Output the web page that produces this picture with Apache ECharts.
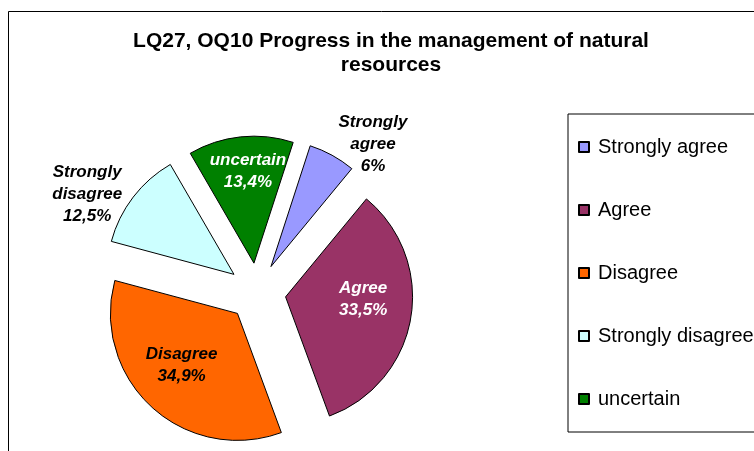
<!DOCTYPE html>
<html>
<head>
<meta charset="utf-8">
<script src="https://cdn.jsdelivr.net/npm/echarts@6/dist/echarts.min.js"></script>
<style>
  html, body { margin: 0; padding: 0; background: #fff; }
  #chart { width: 754px; height: 451px; }
</style>
</head>
<body>
<div id="chart"></div>
<script>
// data
const categories = ['Strongly agree', 'Agree', 'Disagree', 'Strongly disagree', 'uncertain']
const shares = [6, 33.5, 34.9, 12.5, 13.4]

const colors = ['#9999FF', '#993366', '#FF6600', '#CCFFFF', '#008000']
// label colour and nudge for each slice (inside labels white, others black)
const labelColors = ['#000', '#fff', '#000', '#000', '#fff']
const labelOffsets = [[70, -64], [12, -9], [-11, 3], [-94, -40], [1, -26]]

const chart = echarts.init(document.getElementById('chart'))

const option = {
  animation: false,
  title: {
    text: 'LQ27, OQ10 Progress in the management of natural\nresources',
    left: 386,
    top: 24,
    textAlign: 'center',
    textStyle: {
      fontFamily: 'Arial, Liberation Sans',
      fontSize: 21,
      fontWeight: 'bold',
      lineHeight: 24,
      color: '#000'
    }
  },
  legend: {
    orient: 'vertical',
    left: 568,
    top: 114,
    padding: [23, 30, 23, 10],
    itemWidth: 10,
    itemHeight: 10,
    itemGap: 43,
    icon: 'rect',
    selectedMode: false,
    borderColor: '#000',
    borderWidth: 1,
    textStyle: {
      fontFamily: 'Arial, Liberation Sans',
      fontSize: 20,
      color: '#000',
      padding: [0, 0, 0, 4]
    },
    data: categories
  },
  graphic: [
    {
      type: 'rect',
      shape: { x: 8.5, y: 11.5, width: 800, height: 500 },
      style: { fill: 'none', stroke: '#000', lineWidth: 1 },
      silent: true
    }
  ],
  series: [
    {
      type: 'pie',
      center: [257, 292],
      radius: 127,
      startAngle: 72,
      clockwise: true,
      selectedMode: 'multiple',
      selectedOffset: 29,
      avoidLabelOverlap: false,
      emphasis: { disabled: true },
      itemStyle: { borderColor: '#000', borderWidth: 1 },
      labelLine: { show: false },
      label: {
        position: 'inside',
        fontFamily: 'Arial, Liberation Sans',
        fontSize: 17,
        fontWeight: 'bold',
        fontStyle: 'italic',
        lineHeight: 22,
        formatter: p => p.name.replace(' ', '\n') + '\n' + String(p.value).replace('.', ',') + '%'
      },
      labelLayout: p => ({ dx: labelOffsets[p.dataIndex][0], dy: labelOffsets[p.dataIndex][1] }),
      data: categories.map((name, i) => ({
        name: name,
        value: shares[i],
        selected: true,
        itemStyle: { color: colors[i] },
        label: { color: labelColors[i] }
      }))
    }
  ]
}

chart.setOption(option)
</script>
</body>
</html>
